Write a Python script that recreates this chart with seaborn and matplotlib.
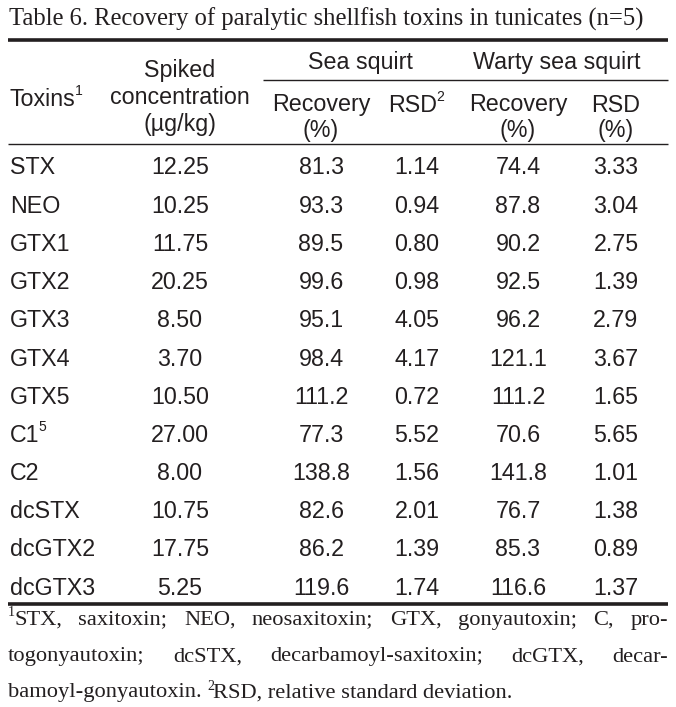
import matplotlib
matplotlib.use("Agg")
import matplotlib.pyplot as plt
import seaborn as sns
from matplotlib import font_manager

sns.set_theme(style="white")

# ---- data ----
toxins = ["STX", "NEO", "GTX1", "GTX2", "GTX3", "GTX4", "GTX5", "C1", "C2",
          "dcSTX", "dcGTX2", "dcGTX3"]
toxin_sup = ["", "", "", "", "", "", "", "5", "", "", "", ""]
spiked = ["12.25", "10.25", "11.75", "20.25", "8.50", "3.70", "10.50", "27.00",
          "8.00", "10.75", "17.75", "5.25"]
ss_recovery = ["81.3", "93.3", "89.5", "99.6", "95.1", "98.4", "111.2", "77.3",
               "138.8", "82.6", "86.2", "119.6"]
ss_rsd = ["1.14", "0.94", "0.80", "0.98", "4.05", "4.17", "0.72", "5.52",
          "1.56", "2.01", "1.39", "1.74"]
ws_recovery = ["74.4", "87.8", "90.2", "92.5", "96.2", "121.1", "111.2", "70.6",
               "141.8", "76.7", "85.3", "116.6"]
ws_rsd = ["3.33", "3.04", "2.75", "1.39", "2.79", "3.67", "1.65", "5.65",
          "1.01", "1.38", "0.89", "1.37"]

title = "Table 6. Recovery of paralytic shellfish toxins in tunicates (n=5)"
foot_lines = [
    ["1", "STX, saxitoxin; NEO, neosaxitoxin; GTX, gonyautoxin; C, pro-"],
    ["", "togonyautoxin; dcSTX, decarbamoyl-saxitoxin; dcGTX, decar-"],
    ["", "bamoyl-gonyautoxin. ", "2", "RSD, relative standard deviation."],
]

avail = {f.name for f in font_manager.fontManager.ttflist}
SANS = "Liberation Sans Narrow" if "Liberation Sans Narrow" in avail else "Liberation Sans"
SERIF = "Liberation Serif"
plt.rcParams["font.family"] = [SANS, "DejaVu Sans"]

W, H = 676, 707
fig = plt.figure(figsize=(W / 100, H / 100), dpi=100)
ax = fig.add_axes([0, 0, 1, 1])
ax.set_xlim(0, W)
ax.set_ylim(H, 0)
ax.axis("off")

C = "#231f20"
px = 0.72  # px -> pt
fs = 23.3 * px
fss = 14 * px

def t(x, y, s, ha="center", size=fs, family=None, va="center"):
    return ax.text(x, y, s, ha=ha, va=va, fontsize=size, color=C,
                   family=family or [SANS, "DejaVu Sans"])

# title
ax.text(9, 19, title, ha="left", va="center", fontsize=24.6 * px, color=C, family=SERIF)

# rules
ax.plot([8, 668], [40, 40], color=C, lw=2.6, solid_capstyle="butt")
ax.plot([263, 668], [80, 80], color=C, lw=1.0, solid_capstyle="butt")
ax.plot([8, 668], [144, 144], color=C, lw=1.0, solid_capstyle="butt")
ax.plot([8, 668], [604, 604], color=C, lw=2.6, solid_capstyle="butt")

fig.canvas.draw()
r = fig.canvas.get_renderer()

# header
cols = [180, 321, 417, 518, 616]
t(360, 63, "Sea squirt")
t(557, 63, "Warty sea squirt")
tx = t(10, 99, "Toxins", ha="left")
bb = tx.get_window_extent(r)
t(bb.x1 - 1, 91, "1", ha="left", size=fss)
t(cols[0], 70, "Spiked")
t(cols[0], 98, "concentration")
t(cols[0], 124, "(µg/kg)")
t(cols[1], 105, "Recovery")
t(cols[1], 131, "(%)")
rs = t(cols[2] - 4, 105, "RSD")
bb = rs.get_window_extent(r)
t(bb.x1 - 1, 97, "2", ha="left", size=fss)
t(cols[3], 105, "Recovery")
t(cols[3], 131, "(%)")
t(cols[4], 105, "RSD")
t(cols[4], 131, "(%)")

# rows
y0, dy = 168, 38.2
for i, name in enumerate(toxins):
    y = y0 + i * dy
    nt = t(10, y, name, ha="left")
    if toxin_sup[i]:
        bb = nt.get_window_extent(r)
        t(bb.x1 - 1, y - 8, toxin_sup[i], ha="left", size=fss)
    for x, arr in zip(cols, [spiked, ss_recovery, ss_rsd, ws_recovery, ws_rsd]):
        t(x, y, arr[i])

# footnote, justified
ffs = 22.5 * px
fsup = 14 * px
L, R = 8, 668
ys = [620, 657, 693]

def width_of(s, size):
    tt = ax.text(0, 0, s, fontsize=size, family=SERIF)
    w = tt.get_window_extent(r).width
    tt.remove()
    return w

for li, parts in enumerate(foot_lines):
    y = ys[li]
    if li < 2:
        sup, body = parts
        x = L
        if sup:
            ax.text(x, y - 7, sup, ha="left", va="center", fontsize=fsup, color=C, family=SERIF)
            x += width_of(sup, fsup) - 1
        words = body.split(" ")
        ww = [width_of(w, ffs) for w in words]
        gap = (R - x - sum(ww)) / (len(words) - 1)
        for w, wd in zip(words, ww):
            ax.text(x, y, w, ha="left", va="center", fontsize=ffs, color=C, family=SERIF)
            x += wd + gap
    else:
        x = L
        for j, p in enumerate(parts):
            if p == "":
                continue
            if j == 2:
                ax.text(x, y - 7, p, ha="left", va="center", fontsize=fsup, color=C, family=SERIF)
                x += width_of(p, fsup) - 1
            else:
                ax.text(x, y, p, ha="left", va="center", fontsize=ffs, color=C, family=SERIF)
                x += width_of(p + "|", ffs) - width_of("|", ffs)

sns.despine(ax=ax, left=True, bottom=True)
fig.savefig("out.png", dpi=100, facecolor="white")
